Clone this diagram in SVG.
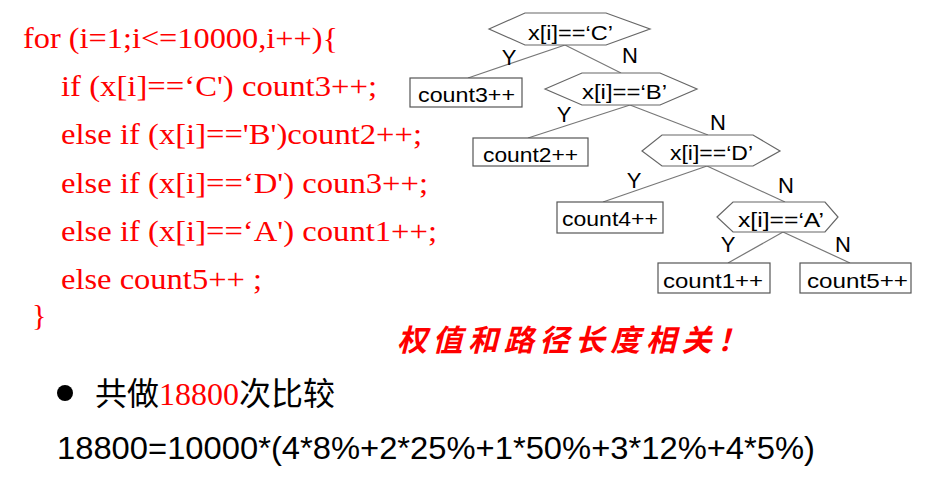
<svg xmlns="http://www.w3.org/2000/svg" width="929" height="494" viewBox="0 0 929 494">
<style>
.code{font-family:"Liberation Serif","Times New Roman",serif;font-size:30px;fill:#ff0000}
.hex{fill:#fff;stroke:#666;stroke-width:1.2}
.box{fill:#fff;stroke:#555;stroke-width:1.2}
.lbl{font-family:"Liberation Sans",Arial,sans-serif;font-size:21px;fill:#000}
.yn{font-family:"Liberation Sans",Arial,sans-serif;font-size:22px;fill:#000;text-anchor:middle}
.edge{stroke:#777;stroke-width:1.2;fill:none}
.cjk{font-family:"Liberation Sans","Noto Sans CJK SC",sans-serif;font-size:32px;fill:#000}
</style>
<rect width="929" height="494" fill="#fff"/>
<g id="code">
<text class="code" x="23" y="48" textLength="315" lengthAdjust="spacingAndGlyphs">for (i=1;i&lt;=10000,i++){</text>
<text class="code" x="61" y="96" textLength="316" lengthAdjust="spacingAndGlyphs">if (x[i]==‘C') count3++;</text>
<text class="code" x="61" y="144" textLength="361" lengthAdjust="spacingAndGlyphs">else if (x[i]=='B')count2++;</text>
<text class="code" x="61" y="193" textLength="367" lengthAdjust="spacingAndGlyphs">else if (x[i]==‘D') coun3++;</text>
<text class="code" x="61" y="241" textLength="376" lengthAdjust="spacingAndGlyphs">else if (x[i]==‘A') count1++;</text>
<text class="code" x="61" y="289" textLength="201" lengthAdjust="spacingAndGlyphs">else count5++ ;</text>
<text class="code" x="32" y="325">}</text>
</g>
<g id="connectors">
<line class="edge" x1="565" y1="45" x2="468" y2="78"/>
<line class="edge" x1="565" y1="45" x2="621" y2="73"/>
<line class="edge" x1="630" y1="105" x2="528" y2="138"/>
<line class="edge" x1="630" y1="105" x2="708" y2="135"/>
<line class="edge" x1="707" y1="166" x2="603" y2="202"/>
<line class="edge" x1="707" y1="166" x2="785" y2="202"/>
<line class="edge" x1="783" y1="232" x2="728" y2="263"/>
<line class="edge" x1="783" y1="232" x2="850" y2="263"/>
<text class="yn" x="509" y="65">Y</text>
<text class="yn" x="630" y="63">N</text>
<text class="yn" x="564" y="122">Y</text>
<text class="yn" x="718" y="130">N</text>
<text class="yn" x="634" y="188">Y</text>
<text class="yn" x="786" y="193">N</text>
<text class="yn" x="728" y="252">Y</text>
<text class="yn" x="843" y="252">N</text>
</g>
<g id="nodeC">
<polygon class="hex" points="489,29 525,13 606,13 650,29 606,45 525,45"/>
<text class="lbl" x="528" y="40" textLength="85" lengthAdjust="spacingAndGlyphs">x[i]==‘C’</text>
</g>
<g id="count3">
<rect class="box" x="410" y="78" width="112" height="29"/>
<text class="lbl" x="418" y="102" textLength="97" lengthAdjust="spacingAndGlyphs">count3++</text>
</g>
<g id="nodeB">
<polygon class="hex" points="545,89 582,73 660,73 697,89 660,105 582,105"/>
<text class="lbl" x="582" y="99" textLength="85" lengthAdjust="spacingAndGlyphs">x[i]==‘B’</text>
</g>
<g id="count2">
<rect class="box" x="473" y="138" width="115" height="28"/>
<text class="lbl" x="483" y="162" textLength="95" lengthAdjust="spacingAndGlyphs">count2++</text>
</g>
<g id="nodeD">
<polygon class="hex" points="642,151 662,135 753,135 780,151 753,166 662,166"/>
<text class="lbl" x="670" y="160" textLength="83" lengthAdjust="spacingAndGlyphs">x[i]==‘D’</text>
</g>
<g id="count4">
<rect class="box" x="557" y="202" width="106" height="31"/>
<text class="lbl" x="562" y="226" textLength="96" lengthAdjust="spacingAndGlyphs">count4++</text>
</g>
<g id="nodeA">
<polygon class="hex" points="717,217 733,202 825,202 838,217 825,232 733,232"/>
<text class="lbl" x="738" y="227" textLength="86" lengthAdjust="spacingAndGlyphs">x[i]==‘A’</text>
</g>
<g id="count1">
<rect class="box" x="658" y="263" width="112" height="30"/>
<text class="lbl" x="663" y="288" textLength="100" lengthAdjust="spacingAndGlyphs">count1++</text>
</g>
<g id="count5">
<rect class="box" x="800" y="263" width="111" height="30"/>
<text class="lbl" x="807" y="288" textLength="101" lengthAdjust="spacingAndGlyphs">count5++</text>
</g>
<g id="note">
<text x="397" y="351" textLength="350" lengthAdjust="spacing" style="font-family:'Noto Sans CJK SC',sans-serif;font-size:30px;font-weight:bold;font-style:italic;fill:#ff0000">权值和路径长度相关！</text>
</g>
<g id="summary">
<circle cx="65" cy="393" r="8" fill="#000"/>
<text class="cjk" x="95" y="405">共做<tspan style="font-family:'Liberation Serif',serif;fill:#ff0000">18800</tspan>次比较</text>
<text class="cjk" x="57" y="459" font-size="31" textLength="758" lengthAdjust="spacingAndGlyphs">18800=10000*(4*8%+2*25%+1*50%+3*12%+4*5%)</text>
</g>
</svg>
